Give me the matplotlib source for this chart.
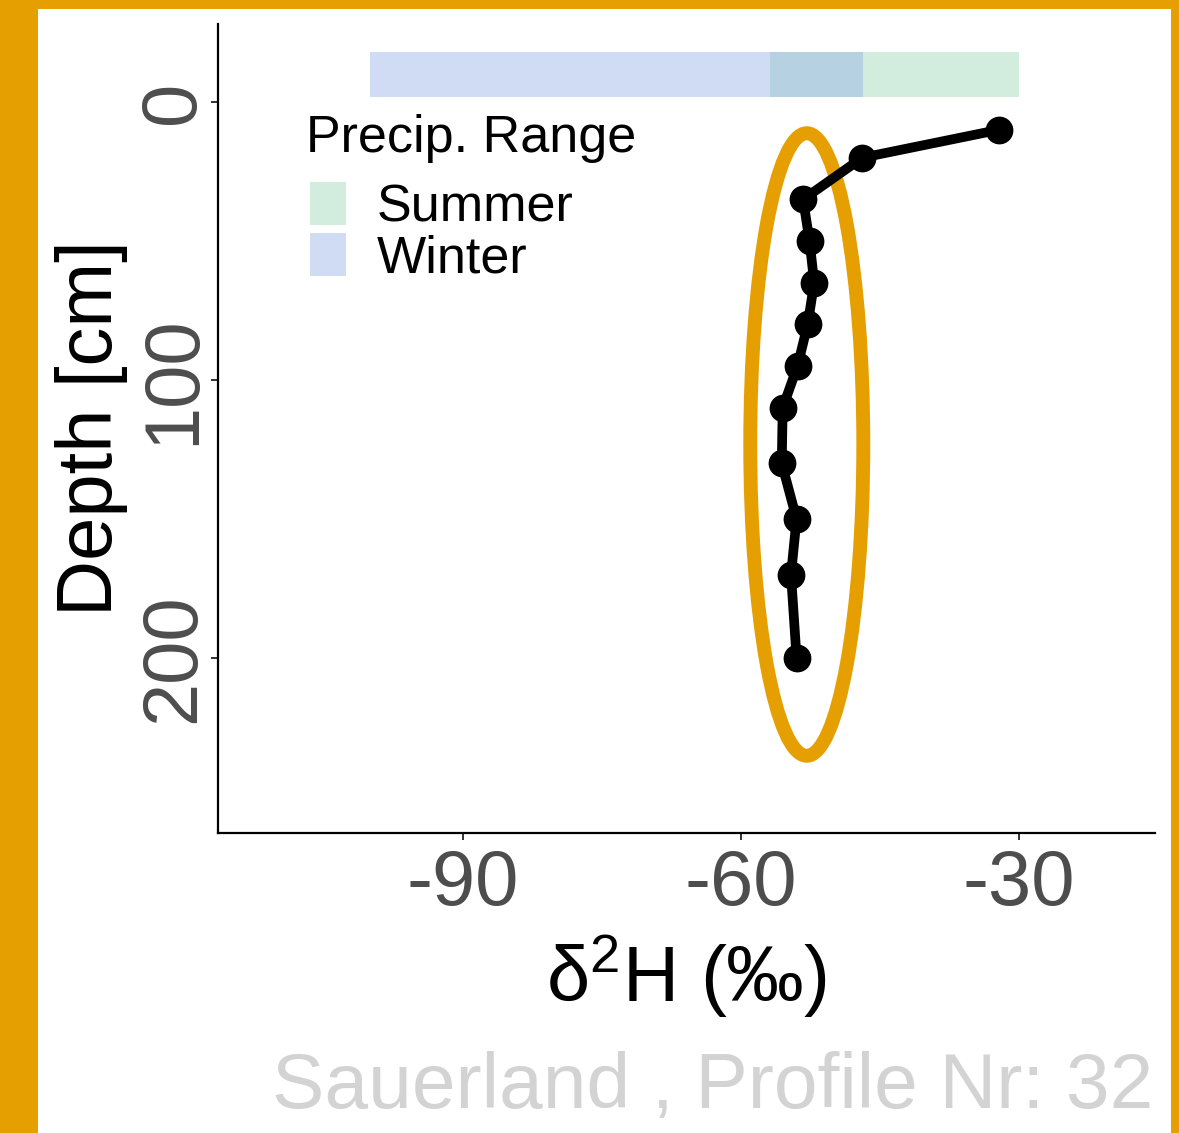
import matplotlib.pyplot as plt
from matplotlib.patches import Ellipse, Patch, Rectangle

plt.rcParams['font.family'] = ['Liberation Sans', 'DejaVu Sans']
plt.rcParams['mathtext.fontset'] = 'custom'
plt.rcParams['mathtext.rm'] = 'Liberation Sans'
plt.rcParams['mathtext.it'] = 'Liberation Sans:italic'
plt.rcParams['axes.unicode_minus'] = False

# soil profile
depth = [10, 20, 35, 50, 65, 80, 95, 110, 130, 150, 170, 200]
d2h = [-32.2, -46.9, -53.3, -52.6, -52.1, -52.8, -53.9, -55.5, -55.6, -54.0, -54.6, -54.0]

# precipitation ranges (bar above the profile)
ranges = ['Summer', 'Winter']
range_min = [-56.9, -100.0]
range_max = [-30.0, -46.8]
bar_top, bar_bottom = -18, -2

# highlighted region
ell_x, ell_y = -52.9, 123.2
ell_w, ell_h = 12.2, 224

orange = '#E69F00'
range_colors = ['#4fbb7b', '#97b3e9']
range_alpha = [0.25, 0.46]

fig = plt.figure(figsize=(11.79, 11.33), dpi=100, facecolor=orange)
fig.patches.append(Rectangle((38 / 1179, 0), (1171 - 38) / 1179, (1133 - 9) / 1133,
                             transform=fig.transFigure, facecolor='white',
                             edgecolor='none', zorder=-10))

ax = fig.add_axes([218 / 1179, 1 - 833 / 1133, (1155 - 218) / 1179, (833 - 24) / 1133])
ax.set_facecolor('white')

handles = []
for i, (name, lo, hi) in enumerate(zip(ranges, range_min, range_max)):
    ax.barh((bar_top + bar_bottom) / 2, hi - lo, left=lo, height=bar_bottom - bar_top,
            color=range_colors[i], alpha=range_alpha[i], linewidth=0, zorder=1 + i * 0.1)
    handles.append(Patch(facecolor=range_colors[i], alpha=range_alpha[i],
                         edgecolor='none', label=name))

ax.add_patch(Ellipse((ell_x, ell_y), ell_w, ell_h, fill=False, edgecolor=orange,
                     linewidth=10, zorder=2))
ax.plot(d2h, depth, color='black', linewidth=7, marker='o', markersize=19,
        zorder=3, solid_capstyle='round')

ax.set_xlim(-116.44, -15.32)
ax.set_ylim(263, -28.1)
ax.set_xticks([-90, -60, -30])
ax.set_yticks([0, 100, 200])
for s in ['top', 'right']:
    ax.spines[s].set_visible(False)
for s in ['left', 'bottom']:
    ax.spines[s].set_linewidth(1.6)
ax.tick_params(axis='both', length=5, width=1.4, color='#333333',
               labelcolor='#4D4D4D', labelsize=56)
ax.tick_params(axis='x', pad=6)
ax.tick_params(axis='y', pad=1)
for lab in ax.get_yticklabels():
    lab.set_rotation(90)
    lab.set_va('center')

ax.set_xlabel(r'δ$^{2}$H (‰)', fontsize=56, labelpad=8)
ax.set_ylabel('Depth [cm]', fontsize=56, labelpad=6)

# legend title placed on its own, entries below it
fig.text(306 / 1179, 1 - 152 / 1133, 'Precip. Range', fontsize=37.5,
         ha='left', va='baseline')
leg = ax.legend(handles=handles, loc='upper left',
                bbox_to_anchor=(310 / 1179, 1 - 182 / 1133),
                bbox_transform=fig.transFigure, frameon=False, fontsize=37.5,
                handlelength=0.7, handleheight=0.9, handletextpad=0.58,
                labelspacing=0.0, borderpad=0, borderaxespad=0)

fig.text(1153 / 1179, 1 - 1108 / 1133, 'Sauerland , Profile Nr: 32', fontsize=56.5,
         color='#D3D3D3', ha='right', va='baseline')

fig.savefig('out.png', dpi=100, facecolor=orange)
